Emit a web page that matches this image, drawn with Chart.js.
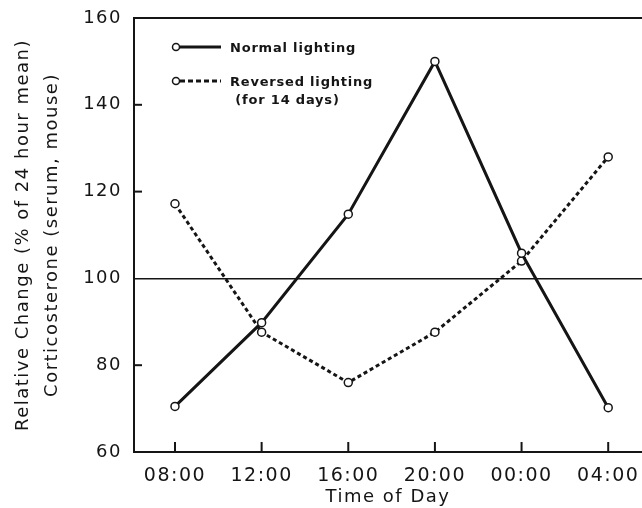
<!DOCTYPE html>
<html>
<head>
<meta charset="utf-8">
<script src="https://cdn.jsdelivr.net/npm/chart.js@4/dist/chart.umd.min.js"></script>
<style>
  html, body { margin: 0; padding: 0; background: #fff; }
  #wrap { width: 642px; height: 508px; }
</style>
</head>
<body>
<div id="wrap"><canvas id="chart" width="642" height="508"></canvas></div>
<script>
// Time points (categories) and the two series
const times = ["08:00", "12:00", "16:00", "20:00", "00:00", "04:00"];
const normalLighting = [70.5, 89.8, 114.8, 150, 105.8, 70.2];
const reversedLighting = [117.2, 87.6, 76, 87.6, 104, 128];
const yTicks = [60, 80, 100, 120, 140, 160];
const innerYTicks = [80, 120, 140];

const ink = "#151515";
const font = "'DejaVu Sans', sans-serif";

// the old figure's lettering is wide, so space the letters out a bit
const spacing = {
  id: "spacing",
  beforeDraw(chart) {
    chart.ctx.letterSpacing = "1.5px";
  },
  afterDraw(chart) {
    chart.ctx.letterSpacing = "0px";
  },
};

// open-circle legend in the upper left of the plot
const legendPlugin = {
  id: "figLegend",
  afterDraw(chart) {
    const { ctx, chartArea } = chart;
    const x0 = chartArea.left + 42;
    const rows = [
      { y: chartArea.top + 29, dash: [], label: ["Normal lighting"] },
      { y: chartArea.top + 63, dash: [5, 3], label: ["Reversed lighting", " (for 14 days)"] },
    ];
    ctx.save();
    ctx.letterSpacing = "0.8px";
    rows.forEach((r) => {
      ctx.strokeStyle = ink;
      ctx.lineWidth = 3;
      ctx.setLineDash(r.dash);
      ctx.beginPath();
      ctx.moveTo(x0 + 4, r.y);
      ctx.lineTo(x0 + 45, r.y);
      ctx.stroke();
      ctx.setLineDash([]);
      ctx.lineWidth = 1.5;
      ctx.fillStyle = "#fff";
      ctx.beginPath();
      ctx.arc(x0, r.y, 3.5, 0, Math.PI * 2);
      ctx.fill();
      ctx.stroke();
      ctx.fillStyle = ink;
      ctx.font = "bold 13px " + font;
      ctx.textBaseline = "middle";
      ctx.textAlign = "left";
      r.label.forEach((t, i) => ctx.fillText(t, x0 + 54, r.y + 2 + i * 18));
    });
    ctx.restore();
  },
};

// tick marks on both axes point into the plot
const innerTicks = {
  id: "innerTicks",
  afterDatasetsDraw(chart) {
    const { ctx, chartArea, scales } = chart;
    ctx.save();
    ctx.strokeStyle = ink;
    ctx.lineWidth = 2;
    times.forEach((_, i) => {
      const px = scales.x.getPixelForValue(i);
      ctx.beginPath();
      ctx.moveTo(px, chartArea.bottom);
      ctx.lineTo(px, chartArea.bottom - 10);
      ctx.stroke();
    });
    innerYTicks.forEach((v) => {
      const py = scales.y.getPixelForValue(v);
      ctx.beginPath();
      ctx.moveTo(chartArea.left, py);
      ctx.lineTo(chartArea.left + 8, py);
      ctx.stroke();
    });
    ctx.restore();
  },
};

const pointStyle = {
  pointRadius: 4,
  pointBackgroundColor: "#fff",
  pointBorderColor: ink,
  pointBorderWidth: 1.5,
  borderColor: ink,
  borderWidth: 3,
  tension: 0,
};

new Chart(document.getElementById("chart"), {
  type: "line",
  data: {
    datasets: [
      {
        label: "Normal lighting",
        data: normalLighting.map((v, i) => ({ x: i, y: v })),
        ...pointStyle,
      },
      {
        label: "Reversed lighting (for 14 days)",
        data: reversedLighting.map((v, i) => ({ x: i, y: v })),
        borderDash: [4, 3],
        ...pointStyle,
      },
    ],
  },
  options: {
    responsive: false,
    animation: false,
    layout: { autoPadding: false, padding: { top: 18, right: 0, left: 0, bottom: 0 } },
    scales: {
      x: {
        type: "linear",
        min: -0.473,
        max: 5.39,
        afterBuildTicks: (scale) => {
          scale.ticks = times.map((_, i) => ({ value: i }));
        },
        afterFit: (scale) => {
          scale.height = 56;
          scale.paddingLeft = 0;
          scale.paddingRight = 0;
        },
        grid: { display: false },
        border: { display: true, color: ink, width: 2 },
        ticks: {
          color: ink,
          font: { family: font, size: 19 },
          padding: 5,
          maxRotation: 0,
          callback: (v) => times[v],
        },
        title: {
          display: true,
          text: "Time of Day",
          color: ink,
          font: { family: font, size: 18 },
          padding: { top: 0, bottom: 0 },
        },
      },
      y: {
        min: 60,
        max: 160,
        afterBuildTicks: (scale) => {
          scale.ticks = yTicks.map((v) => ({ value: v }));
        },
        afterFit: (scale) => {
          scale.width = 134;
          scale.paddingTop = 0;
          scale.paddingBottom = 0;
        },
        grid: {
          drawOnChartArea: true,
          drawTicks: false,
          color: (c) => (c.tick && (c.tick.value === 100 || c.tick.value === 160) ? ink : "rgba(0,0,0,0)"),
          lineWidth: (c) => (c.tick && c.tick.value === 160 ? 2 : 1.5),
        },
        border: { display: true, color: ink, width: 2 },
        ticks: {
          color: ink,
          font: { family: font, size: 18 },
          padding: 12,
        },
        title: {
          display: true,
          text: ["Relative Change (% of 24 hour mean)", "Corticosterone (serum, mouse)"],
          color: ink,
          font: { family: font, size: 18, lineHeight: 1.6 },
          padding: { top: 9, bottom: 4 },
        },
      },
    },
    plugins: {
      legend: { display: false },
      tooltip: { enabled: false },
    },
  },
  plugins: [spacing, legendPlugin, innerTicks],
});
</script>
</body>
</html>
